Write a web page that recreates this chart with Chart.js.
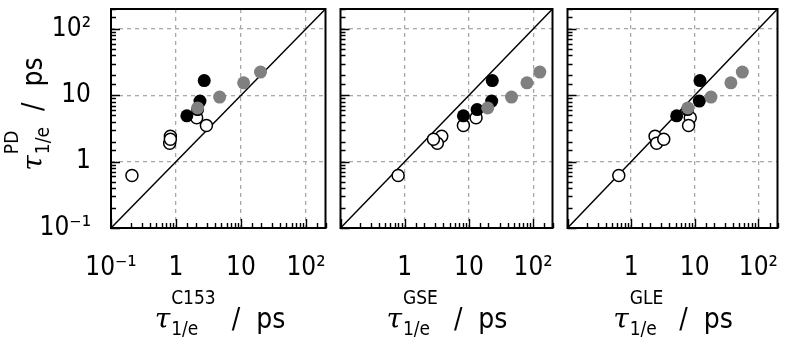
<!DOCTYPE html>
<html>
<head>
<meta charset="utf-8">
<script src="https://cdn.jsdelivr.net/npm/chart.js@4/dist/chart.umd.min.js"></script>
<style>
  html, body { margin: 0; padding: 0; background: #fff; }
  #wrap { position: relative; width: 785px; height: 341px; overflow: hidden; }
  #wrap canvas { position: absolute; top: 0; }
  .ttl {
    position: absolute; white-space: nowrap; text-align: center; color: #000;
    font-family: 'Liberation Sans Narrow', 'DejaVu Sans Condensed', 'Liberation Sans', sans-serif;
    font-size: 28px; line-height: 28px;
  }
  .tau { font-family: 'DejaVu Serif', 'Liberation Serif', serif; font-style: italic; }
  .ss { display: inline-block; vertical-align: -7px; font-size: 19px; line-height: 31px; text-align: left; margin-left: 1px; }
  .ss span { display: block; }
</style>
</head>
<body>
<div id="wrap">
  <canvas id="c1" width="333" height="341" style="left:0px;width:333px;height:341px"></canvas>
  <canvas id="c2" width="227" height="341" style="left:333px;width:227px;height:341px"></canvas>
  <canvas id="c3" width="225" height="341" style="left:560px;width:225px;height:341px"></canvas>

  <div class="ttl" id="xt1" style="left:120px;top:282px;width:200px"><span class="tau">τ</span><span class="ss"><span>C153</span><span>1/e</span></span>&nbsp; /&nbsp; ps</div>
  <div class="ttl" id="xt2" style="left:347px;top:282px;width:200px"><span class="tau">τ</span><span class="ss"><span>GSE</span><span>1/e</span></span>&nbsp; /&nbsp; ps</div>
  <div class="ttl" id="xt3" style="left:573px;top:282px;width:200px"><span class="tau">τ</span><span class="ss"><span>GLE</span><span>1/e</span></span>&nbsp; /&nbsp; ps</div>
  <div class="ttl" id="yt" style="left:-73px;top:83px;width:200px;transform:rotate(-90deg)"><span class="tau">τ</span><span class="ss"><span>PD</span><span>1/e</span></span>&nbsp; /&nbsp; ps</div>
</div>

<script>
// Relaxation times (ps). Vertical axis: PD values, shared by all three panels.
const pdOpen  = [0.62, 2.42, 1.90, 2.18, 4.6, 3.5];
const pdBlack = [16.7, 8.2, 6.1, 4.9];
const pdGray  = [22.4, 15.4, 9.4, 6.45];

// Horizontal axis: C153 values
const c153Open  = [0.21, 0.82, 0.80, 0.82, 2.08, 2.94];
const c153Black = [2.72, 2.34, 2.15, 1.47];
const c153Gray  = [20, 11.0, 4.7, 2.15];

// Horizontal axis: GSE values
const gseOpen  = [0.79, 3.77, 3.22, 2.8, 12.9, 8.2];
const gseBlack = [23.1, 22.6, 13.4, 8.2];
const gseGray  = [127, 80, 46, 19.6];

// Horizontal axis: GLE values
const gleOpen  = [0.64, 2.38, 2.52, 3.26, 8.5, 8.0];
const gleBlack = [12.1, 11.8, 7.7, 5.2];
const gleGray  = [56, 37, 18, 7.8];

// Axis range, decade tick labels and the y = x reference line
const axisMin = 0.1, axisMax = 200;
const tickValues = [0.1, 1, 10, 100];
const tickLabels = ['10\u207B\u00B9', '1', '10', '10\u00B2'];
const diagonal = [0.1, 200];

const TICK_FONT = { family: "'Liberation Sans Narrow', 'DejaVu Sans Condensed', 'Liberation Sans', sans-serif", size: 26 };

const isDecade = v => Math.abs(Math.log10(v) - Math.round(Math.log10(v))) < 1e-6;
function labelFor(v, skipFirst) {
  for (let i = 0; i < tickValues.length; i++) {
    if (Math.abs(Math.log10(v) - Math.log10(tickValues[i])) < 1e-6) {
      if (skipFirst && i === 0) return '';
      return tickLabels[i];
    }
  }
  return '';
}
const gridColor = ctx => {
  const v = ctx.tick && ctx.tick.value;
  if (!v || !isDecade(v) || Math.abs(v - axisMin) < 1e-9) return 'rgba(0,0,0,0)';
  return '#a9a9a9';
};
const zip = (xs, ys) => xs.map((x, i) => ({ x, y: ys[i] }));
const noPad = s => { s.paddingLeft = 0; s.paddingRight = 0; s.paddingTop = 0; s.paddingBottom = 0; };

// Frame round the plot area plus short inward tick marks on the left and bottom
const framePlugin = {
  id: 'frame',
  afterDatasetsDraw(chart) {
    const { ctx, chartArea: a, scales: { x, y } } = chart;
    ctx.save();
    ctx.strokeStyle = '#000';
    ctx.lineWidth = 1.4;
    ctx.beginPath();
    y.ticks.forEach(t => {
      const py = Math.round(y.getPixelForValue(t.value)) + 0.5;
      const len = isDecade(t.value) ? 9 : 5;
      ctx.moveTo(a.left, py); ctx.lineTo(a.left + len, py);
    });
    x.ticks.forEach(t => {
      const px = Math.round(x.getPixelForValue(t.value)) + 0.5;
      const len = isDecade(t.value) ? 9 : 5;
      ctx.moveTo(px, a.bottom); ctx.lineTo(px, a.bottom - len);
    });
    ctx.stroke();
    ctx.lineWidth = 2;
    ctx.strokeRect(a.left, a.top, a.right - a.left, a.bottom - a.top);
    ctx.restore();
  }
};

function panel(id, xOpen, xBlack, xGray, o) {
  return new Chart(document.getElementById(id), {
    type: 'scatter',
    data: {
      datasets: [
        { data: zip(xGray, pdGray), backgroundColor: '#808080', borderColor: '#808080', borderWidth: 0, pointRadius: 6.5, order: 0 },
        { data: zip(xBlack, pdBlack), backgroundColor: '#000', borderColor: '#000', borderWidth: 0, pointRadius: 6.5, order: 1 },
        { data: zip(xOpen, pdOpen), backgroundColor: '#fff', borderColor: '#000', borderWidth: 1.5, pointRadius: 6, order: 2 },
        { data: diagonal.map(v => ({ x: v, y: v })), showLine: true, borderColor: '#000', borderWidth: 1.5, pointRadius: 0, order: 3 }
      ]
    },
    options: {
      responsive: false, animation: false, devicePixelRatio: 1,
      layout: { padding: { top: 9, right: o.right, left: 0, bottom: 0 } },
      plugins: { legend: { display: false }, tooltip: { enabled: false } },
      events: [],
      scales: {
        x: {
          type: 'logarithmic', min: axisMin, max: axisMax,
          afterFit: s => { s.height = 113; noPad(s); },
          border: { display: false, dash: [4, 4] },
          grid: { drawTicks: false, color: gridColor, lineWidth: 1.3 },
          ticks: {
            autoSkip: false, maxRotation: 0, minRotation: 0, padding: 25,
            color: '#000', font: TICK_FONT,
            callback: v => labelFor(v, o.skipFirstX)
          }
        },
        y: {
          type: 'logarithmic', min: axisMin, max: axisMax,
          afterFit: s => { s.width = o.left; noPad(s); },
          border: { display: false, dash: [4, 4] },
          grid: { drawTicks: false, color: gridColor, lineWidth: 1.3 },
          ticks: {
            display: o.yLabels, autoSkip: false, padding: 20,
            color: '#000', font: TICK_FONT,
            callback: v => labelFor(v, false)
          }
        }
      }
    },
    plugins: [framePlugin]
  });
}

panel('c1', c153Open, c153Black, c153Gray, { left: 111, right: 4, yLabels: true, skipFirstX: false });
panel('c2', gseOpen, gseBlack, gseGray, { left: 5, right: 4, yLabels: false, skipFirstX: true });
panel('c3', gleOpen, gleBlack, gleGray, { left: 4, right: 3, yLabels: false, skipFirstX: true });
</script>
</body>
</html>
